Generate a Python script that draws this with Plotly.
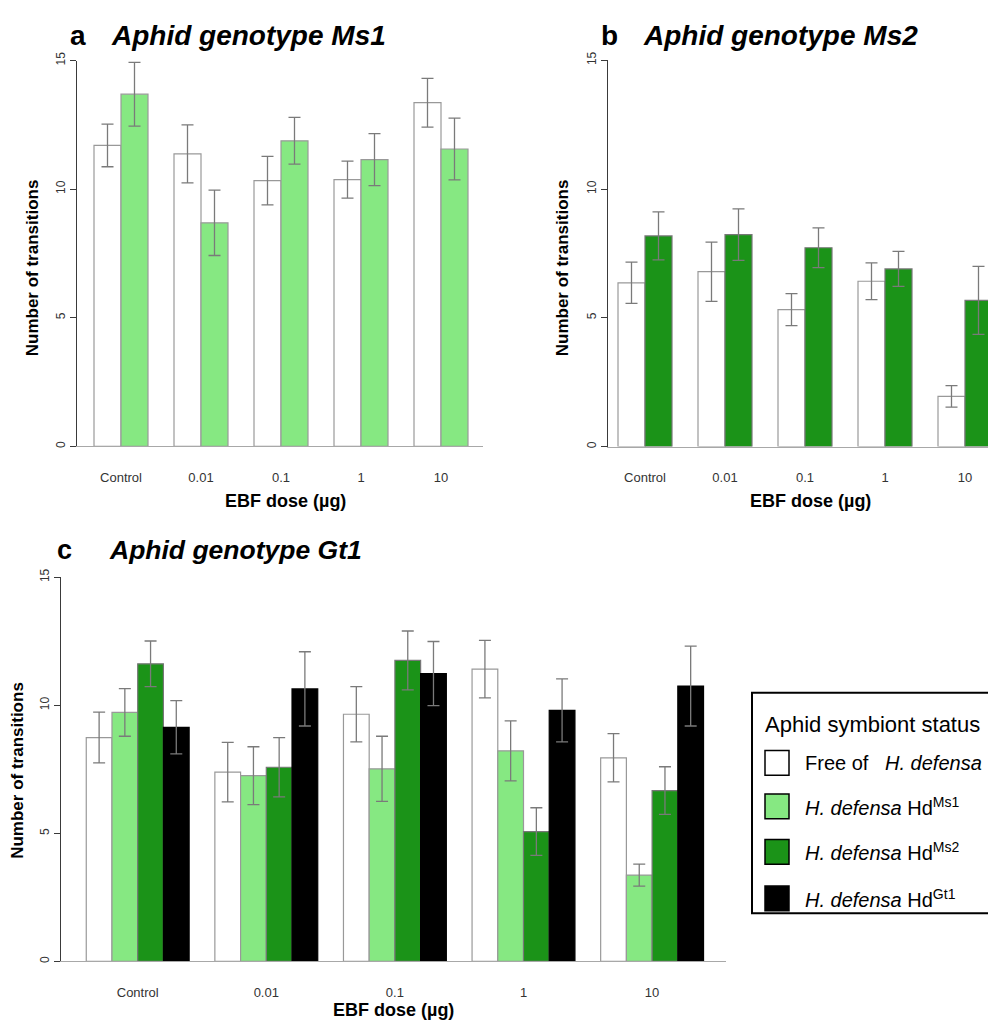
import plotly.graph_objects as go

W, H = 996, 1021
OFF = 8  # page offset of the figure inside the browser window

doses = ["Control", "0.01", "0.1", "1", "10"]

# Panel a: Aphid genotype Ms1
a_free = [11.70, 11.37, 10.33, 10.37, 13.36]
a_free_se = [0.83, 1.13, 0.94, 0.72, 0.95]
a_ms1 = [13.69, 8.69, 11.88, 11.15, 11.56]
a_ms1_se = [1.24, 1.27, 0.91, 1.01, 1.20]

# Panel b: Aphid genotype Ms2
b_free = [6.36, 6.79, 5.32, 6.42, 1.95]
b_free_se = [0.80, 1.15, 0.62, 0.71, 0.42]
b_ms2 = [8.18, 8.23, 7.72, 6.90, 5.68]
b_ms2_se = [0.93, 1.00, 0.77, 0.68, 1.32]

# Panel c: Aphid genotype Gt1
c_free = [8.74, 7.39, 9.65, 11.41, 7.95]
c_free_se = [0.99, 1.16, 1.08, 1.12, 0.94]
c_ms1 = [9.72, 7.25, 7.52, 8.22, 3.37]
c_ms1_se = [0.93, 1.13, 1.27, 1.17, 0.43]
c_ms2 = [11.62, 7.58, 11.75, 5.07, 6.67]
c_ms2_se = [0.89, 1.16, 1.15, 0.93, 0.93]
c_gt1 = [9.14, 10.64, 11.24, 9.80, 10.75]
c_gt1_se = [1.04, 1.45, 1.25, 1.23, 1.56]

legend_title = "Aphid symbiont status"
legend_labels = [
    "Free of&nbsp;&nbsp;&nbsp;<i>H. defensa</i>",
    "<i>H. defensa</i> Hd<sup>Ms1</sup>",
    "<i>H. defensa</i> Hd<sup>Ms2</sup>",
    "<i>H. defensa</i> Hd<sup>Gt1</sup>",
]

C_FREE = "#FFFFFF"
C_MS1 = "#86E882"
C_MS2 = "#1B9318"
C_GT1 = "#000000"
COLORS = [C_FREE, C_MS1, C_MS2, C_GT1]
OUTLINE = ["#999999", "#999999", "#777777", "#000000"]
ERRC = "#7a7a7a"
FONT = "Liberation Sans, Arial, sans-serif"

fig = go.Figure()


def px_x(p):
    return (p - OFF) / W


def px_y(p):
    return 1 - (p - OFF) / H


def add_bar(vals, se, color, outline, xa, ya, slot, nslots, width):
    fig.add_trace(go.Bar(
        x=doses, y=vals, xaxis=xa, yaxis=ya,
        width=width, offset=-nslots * width / 2 + slot * width,
        marker=dict(color=color, line=dict(color=outline, width=1.2)),
        error_y=dict(type="data", array=se, visible=True, color=ERRC,
                     thickness=1.3, width=6),
        showlegend=False, hoverinfo="skip",
    ))


WAB = 27 / 80
add_bar(a_free, a_free_se, C_FREE, OUTLINE[0], "x", "y", 0, 2, WAB)
add_bar(a_ms1, a_ms1_se, C_MS1, OUTLINE[1], "x", "y", 1, 2, WAB)
add_bar(b_free, b_free_se, C_FREE, OUTLINE[0], "x2", "y2", 0, 2, WAB)
add_bar(b_ms2, b_ms2_se, C_MS2, OUTLINE[2], "x2", "y2", 1, 2, WAB)
add_bar(c_free, c_free_se, C_FREE, OUTLINE[0], "x3", "y3", 0, 4, 0.2)
add_bar(c_ms1, c_ms1_se, C_MS1, OUTLINE[1], "x3", "y3", 1, 4, 0.2)
add_bar(c_ms2, c_ms2_se, C_MS2, OUTLINE[2], "x3", "y3", 2, 4, 0.2)
add_bar(c_gt1, c_gt1_se, C_GT1, OUTLINE[3], "x3", "y3", 3, 4, 0.2)

xaxis_common = dict(
    type="category", showline=True, linecolor="#a8a8a8", linewidth=1.3,
    ticks="outside", ticklen=19, tickcolor="rgba(0,0,0,0)",
    tickfont=dict(family=FONT, size=13, color="#333333"),
    showgrid=False, zeroline=False, fixedrange=True,
)
yaxis_common = dict(
    range=[0, 15], tickvals=[0, 5, 10, 15], showline=True,
    linecolor="#3a3a3a", linewidth=1.2, ticks="outside", ticklen=6,
    tickcolor="#3a3a3a", tickangle=-90,
    tickfont=dict(family=FONT, size=12, color="#333333"),
    showgrid=False, zeroline=False, fixedrange=True,
)

# panel geometry in reference pixels
fig.update_layout(
    xaxis=dict(xaxis_common, domain=[px_x(77), px_x(483)],
               range=[-(121 - 77) / 80, (483 - 121) / 80], anchor="y"),
    yaxis=dict(yaxis_common, domain=[px_y(442), px_y(52)], anchor="x"),
    xaxis2=dict(xaxis_common, domain=[px_x(607.7), 1.0],
                range=[-(645 - 607.7) / 80, (1004 - 645) / 80], anchor="y2"),
    yaxis2=dict(yaxis_common, domain=[px_y(442.3), px_y(51.7)], anchor="x2"),
    xaxis3=dict(xaxis_common, domain=[px_x(61), px_x(726)],
                range=[-(137.7 - 61) / 128.6, (726 - 137.7) / 128.6],
                anchor="y3"),
    yaxis3=dict(yaxis_common, domain=[px_y(962.7), px_y(574.3)], anchor="x3"),
    barmode="overlay",
)

annotations = []


def txt(x, y, text, size, bold=False, italic=False, xanchor="left",
        yanchor="middle", angle=0, color="#000000"):
    t = text
    if italic:
        t = "<i>" + t + "</i>"
    if bold:
        t = "<b>" + t + "</b>"
    annotations.append(dict(
        x=px_x(x), y=px_y(y), xref="paper", yref="paper", text=t,
        showarrow=False, xanchor=xanchor, yanchor=yanchor, textangle=angle,
        font=dict(family=FONT, size=size, color=color),
    ))


# panel titles
txt(68, 27, "a", 28, bold=True)
txt(109, 27, "Aphid genotype Ms1", 28, bold=True, italic=True)
txt(599, 27, "b", 28, bold=True)
txt(641, 27, "Aphid genotype Ms2", 28, bold=True, italic=True)
txt(55, 547, "c", 27, bold=True)
txt(107, 547, "Aphid genotype Gt1", 26.5, bold=True, italic=True)

# axis titles
txt(285, 497, "EBF dose (µg)", 18, bold=True, xanchor="center")
txt(810, 497, "EBF dose (µg)", 18, bold=True, xanchor="center")
txt(393, 1012, "EBF dose (µg)", 18, bold=True, xanchor="center")
txt(32, 262, "Number of transitions", 17, bold=True, xanchor="center", angle=-90)
txt(562, 262, "Number of transitions", 17, bold=True, xanchor="center", angle=-90)
txt(18, 770, "Number of transitions", 17, bold=True, xanchor="center", angle=-90)

# legend (boxed key)
shapes = [dict(type="rect", xref="paper", yref="paper",
               x0=px_x(752), x1=px_x(1020), y0=px_y(914), y1=px_y(691),
               line=dict(color="#000000", width=2), fillcolor="rgba(0,0,0,0)")]
txt(763, 723, legend_title, 22)
row_y = [762, 806, 852, 899]
for i, lab in enumerate(legend_labels):
    yc = row_y[i]
    shapes.append(dict(type="rect", xref="paper", yref="paper",
                       x0=px_x(765), x1=px_x(789), y0=px_y(yc + 12.5),
                       y1=px_y(yc - 12.5),
                       line=dict(color="#000000", width=1.5),
                       fillcolor=COLORS[i]))
    txt(803, yc, lab, 20)

fig.update_layout(
    width=W, height=H, margin=dict(l=0, r=0, t=0, b=0),
    paper_bgcolor="white", plot_bgcolor="white",
    annotations=annotations, shapes=shapes, showlegend=False,
    font=dict(family=FONT),
)

fig.write_html("out.html")
